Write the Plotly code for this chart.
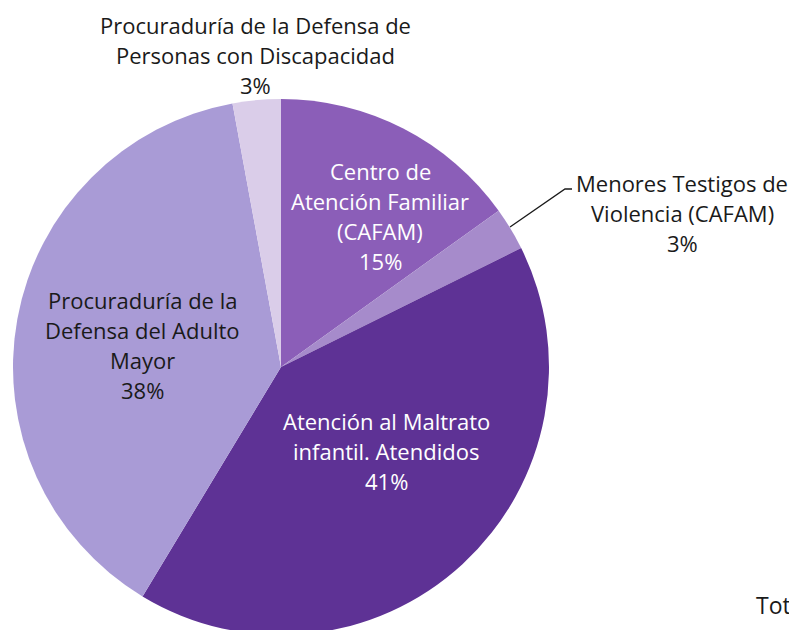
import plotly.graph_objects as go

labels = [
    "Centro de<br>Atención Familiar<br>(CAFAM)",
    "Menores Testigos de<br>Violencia (CAFAM)",
    "Atención al Maltrato<br>infantil. Atendidos",
    "Procuraduría de la<br>Defensa del Adulto<br>Mayor",
    "Procuraduría de la Defensa de<br>Personas con Discapacidad",
]
values = [15.1, 2.6, 41.0, 38.5, 2.9]
colors = ["#8B5EB8", "#A68BCB", "#5E3295", "#A99BD6", "#DACDE9"]
text_colors = ["white", "#1a1a1a", "white", "#1a1a1a", "#1a1a1a"]
# label block centres (page pixels)
label_pos = [(380, 216), (682, 213), (386, 451), (142, 345), (255, 55)]

OFF = 8  # default body margin of the page
W, H = 797, 630
cx, cy, r = 281, 367, 268
LINE = 30

fig = go.Figure(go.Pie(
    labels=[l.replace("<br>", " ") for l in labels],
    values=values,
    sort=False,
    direction="clockwise",
    rotation=0,
    marker=dict(colors=colors, line=dict(width=0)),
    textinfo="none",
    hoverinfo="label+percent",
    showlegend=False,
    domain=dict(x=[(cx - OFF - r) / W, (cx - OFF + r) / W],
                y=[max(0, 1 - (cy - OFF + r) / H), 1 - (cy - OFF - r) / H]),
))


def px2paper(x, y):
    return (x - OFF) / W, 1 - (y - OFF) / H


total = sum(values)
font_family = "'Open Sans', sans-serif"
for lab, v, tc, (px, py) in zip(labels, values, text_colors, label_pos):
    lines = lab.split("<br>") + [f"{round(100 * v / total)}%"]
    n = len(lines)
    for i, ln in enumerate(lines):
        x, y = px2paper(px, py + (i - (n - 1) / 2) * LINE)
        fig.add_annotation(
            x=x, y=y, xref="paper", yref="paper",
            text=ln, showarrow=False, xanchor="center", yanchor="middle",
            font=dict(size=22, color=tc, family=font_family),
        )

# leader line for the small slice on the right
p = [px2paper(510, 227), px2paper(565, 189), px2paper(572, 189)]
fig.add_shape(
    type="path", xref="paper", yref="paper",
    path="M " + " L ".join(f"{a} {b}" for a, b in p),
    line=dict(color="#1a1a1a", width=1.3),
)

tx, ty = px2paper(754, 605)
fig.add_annotation(
    x=tx, y=ty, xref="paper", yref="paper",
    text="Total", showarrow=False, xanchor="left", yanchor="middle",
    font=dict(size=23, color="#1a1a1a", family=font_family),
)

fig.update_layout(
    width=W, height=H,
    margin=dict(l=0, r=0, t=0, b=0),
    paper_bgcolor="white",
    plot_bgcolor="white",
)

fig.write_html("out.html")
